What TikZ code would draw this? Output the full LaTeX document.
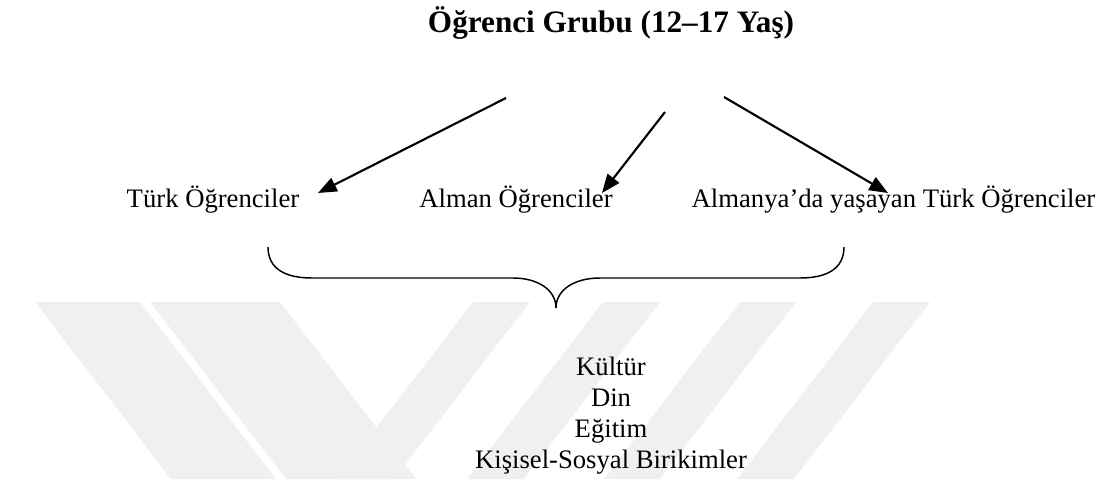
\documentclass[tikz,border=0pt]{standalone}
\usepackage{fontspec}
\setmainfont{Liberation Serif}
\usetikzlibrary{arrows.meta}
\begin{document}
\begin{tikzpicture}[x=0.75pt,y=-0.75pt,
  lbl/.style={font=\fontsize{20}{23}\selectfont, inner sep=0pt, anchor=base},
  ttl/.style={font=\fontsize{23.4}{27}\selectfont\bfseries, inner sep=0pt, anchor=base},
  arr/.style={line width=1.6pt, -{Triangle[length=14pt,width=11pt]}},
  bracestyle/.style={line width=1.1pt},
  wm/.style={fill=black!6, draw=none}]
\useasboundingbox (0,0) rectangle (1103,479);
% watermark (approximate): two "\" bands and four "/" bands
\begin{scope}
\clip (0,302) rectangle (1103,479);
\fill[wm] (35,302) -- (140,302) -- (276,479) -- (171,479) -- cycle;
\fill[wm] (150,302) -- (280,302) -- (416,479) -- (286,479) -- cycle;
\fill[wm] (473,302) -- (530,302) -- (394,479) -- (337,479) -- cycle;
\fill[wm] (603,302) -- (660,302) -- (524,479) -- (467,479) -- cycle;
\fill[wm] (740,302) -- (796,302) -- (660,479) -- (604,479) -- cycle;
\fill[wm] (873,302) -- (930,302) -- (794,479) -- (737,479) -- cycle;
\end{scope}
% title
\node[ttl] (title) at (611,32) {Öğrenci Grubu (12–17 Yaş)};
% labels
\node[lbl] (tr) at (213,207) {Türk Öğrenciler};
\node[lbl] (de) at (516,207) {Alman Öğrenciler};
\node[lbl] (tg) at (893.5,207) {Almanya’da yaşayan Türk Öğrenciler};
% arrows
\coordinate (s1) at (506,98);  \coordinate (e1) at (318,193);
\coordinate (s2) at (665,112); \coordinate (e2) at (602,193);
\coordinate (s3) at (724,97);  \coordinate (e3) at (888,193);
\draw[arr] (s1) -- (e1);
\draw[arr] (s2) -- (e2);
\draw[arr] (s3) -- (e3);
% brace
\coordinate (bl) at (268,247);
\coordinate (bt) at (556,308);
\coordinate (br) at (844,247);
\draw[bracestyle] (bl) .. controls (268,268) and (284,278) .. (312,278)
  -- (513,278) .. controls (538,278) and (556,290) .. (bt)
  .. controls (556,290) and (574,278) .. (600,278)
  -- (800,278) .. controls (828,278) and (844,268) .. (br);
% list
\node[lbl] (k1) at (611,375) {Kültür};
\node[lbl] (k2) at (611,406) {Din};
\node[lbl] (k3) at (611,437) {Eğitim};
\node[lbl] (k4) at (611,468) {Kişisel-Sosyal Birikimler};
\end{tikzpicture}
\end{document}
